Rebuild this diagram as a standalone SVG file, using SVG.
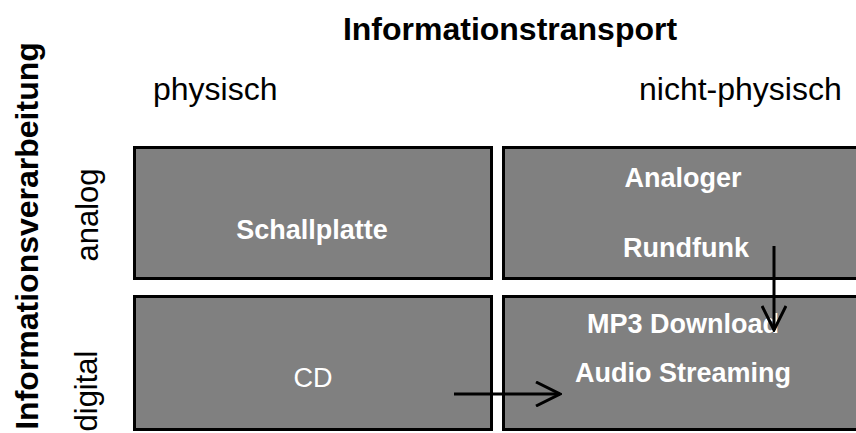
<svg xmlns="http://www.w3.org/2000/svg" width="856" height="433" viewBox="0 0 856 433">
<style>
.box{fill:#808080;stroke:#000;stroke-width:3}
.hdr{font-family:"Liberation Sans",Arial,sans-serif;font-size:32px;fill:#000}
.b{font-weight:bold}
.lbl{font-family:"Liberation Sans",Arial,sans-serif;font-size:27px;font-weight:bold;fill:#fff;text-anchor:middle}
.conn{stroke:#000;stroke-width:3;fill:none}
</style>
<defs>
<marker id="arr" viewBox="0 0 28 26" refX="26" refY="13" markerWidth="28" markerHeight="26" markerUnits="userSpaceOnUse" orient="auto">
<path d="M2,1 L26,13 L2,25" fill="none" stroke="#000" stroke-width="3"/>
</marker>
</defs>
<rect width="856" height="433" fill="#fff"/>
<g id="headers">
<text class="hdr b" x="510" y="40" text-anchor="middle">Informationstransport</text>
<text class="hdr" x="153" y="100">physisch</text>
<text class="hdr" x="639" y="100">nicht-physisch</text>
<text class="hdr b" transform="translate(38,236) rotate(-90)" text-anchor="middle">Informationsverarbeitung</text>
<text class="hdr" style="font-size:31px" transform="translate(98,215) rotate(-90)" text-anchor="middle">analog</text>
<text class="hdr" style="font-size:31px" transform="translate(97,391) rotate(-90)" text-anchor="middle">digital</text>
</g>
<g id="schallplatte">
<rect class="box" x="134.5" y="147.5" width="357" height="131"/>
<text class="lbl" x="312" y="239">Schallplatte</text>
</g>
<g id="rundfunk">
<rect class="box" x="503.5" y="147.5" width="357" height="131"/>
<text class="lbl" x="683" y="187">Analoger</text>
<text class="lbl" x="686" y="257">Rundfunk</text>
</g>
<g id="cd">
<rect class="box" x="134.5" y="296.5" width="357" height="133"/>
<text class="lbl" x="313" y="387" style="font-weight:normal">CD</text>
</g>
<g id="streaming">
<rect class="box" x="503.5" y="296.5" width="357" height="133"/>
<text class="lbl" x="683" y="333">MP3 Download</text>
<text class="lbl" x="683" y="382">Audio Streaming</text>
</g>
<g id="connectors">
<line class="conn" x1="774" y1="246" x2="774" y2="330" marker-end="url(#arr)"/>
<line class="conn" x1="454" y1="394" x2="560" y2="394" marker-end="url(#arr)"/>
</g>
</svg>
